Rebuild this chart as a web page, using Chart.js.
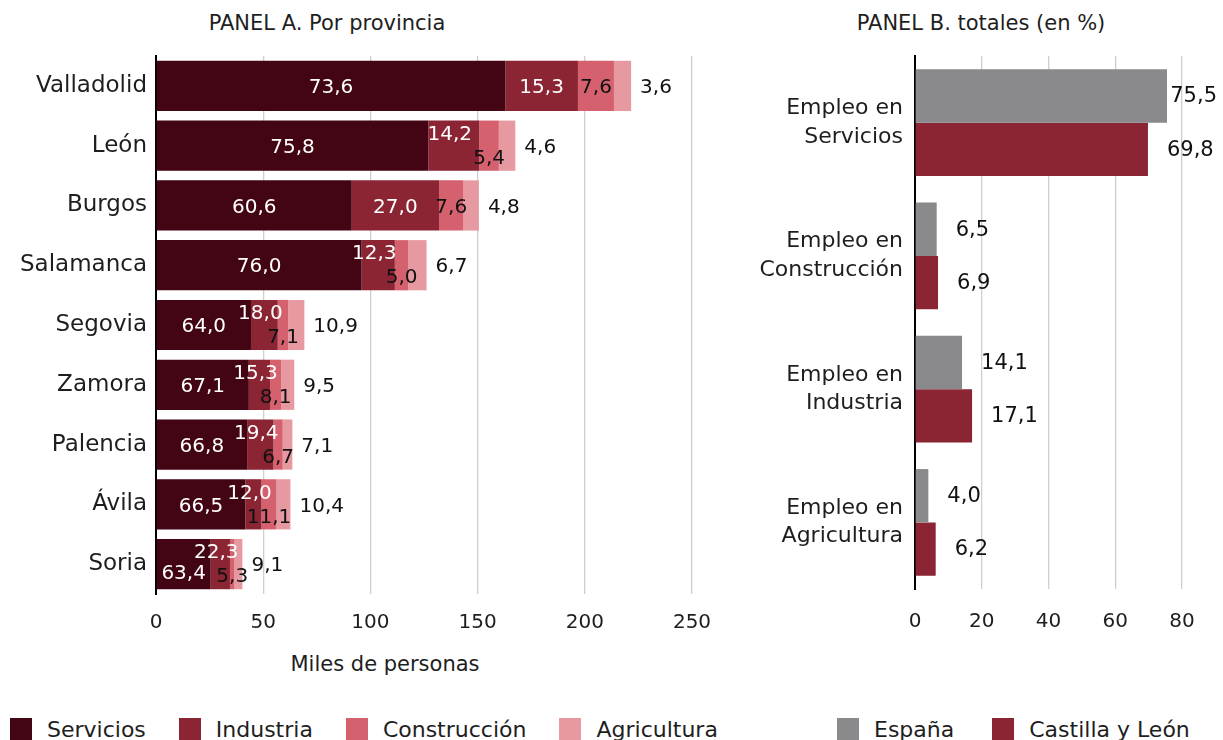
<!DOCTYPE html>
<html>
<head>
<meta charset="utf-8">
<script src="https://cdn.jsdelivr.net/npm/chart.js@4.4.1/dist/chart.umd.min.js"></script>
<style>
  html, body { margin: 0; padding: 0; background: #fff; }
  body { width: 1223px; height: 740px; position: relative; overflow: hidden; font-family: "DejaVu Sans", sans-serif; color: #1e1e1e; }
  canvas { position: absolute; top: 0; }
  #chartA { left: 0; }
  #chartB { left: 740px; }
  .title { position: absolute; font-size: 21px; line-height: 24px; white-space: nowrap; transform: translateX(-50%); }
  .legend { position: absolute; top: 718px; display: flex; font-size: 22px; line-height: 23px; white-space: nowrap; }
  .legend .item { display: flex; align-items: center; }
  .legend .sw { width: 22px; height: 23px; margin-right: 15px; }
</style>
</head>
<body>
<div class="title" style="left:327px;top:11px">PANEL A. Por provincia</div>
<div class="title" style="left:981px;top:11px">PANEL B. totales (en %)</div>
<div class="title" style="left:385px;top:652px">Miles de personas</div>
<canvas id="chartA" width="740" height="700"></canvas>
<canvas id="chartB" width="483" height="700"></canvas>
<div class="legend" id="legendA" style="left:10px;gap:33px"></div>
<div class="legend" id="legendB" style="left:837px;gap:38px"></div>
<script>
// Panel A: empleo por provincia (miles de personas) y etiquetas en % del total
var provincias = ['Valladolid', 'León', 'Burgos', 'Salamanca', 'Segovia', 'Zamora', 'Palencia', 'Ávila', 'Soria'];
var milesServicios    = [162.9, 127.0, 91.3, 95.9, 44.3, 43.3, 42.5, 41.7, 25.5];
var milesIndustria    = [33.9, 23.8, 40.7, 15.5, 12.5, 9.9, 12.3, 7.5, 9.0];
var milesConstruccion = [16.8, 9.1, 11.4, 6.3, 4.9, 5.2, 4.3, 7.0, 2.1];
var milesAgricultura  = [8.0, 7.7, 7.2, 8.5, 7.5, 6.1, 4.5, 6.5, 3.7];
var pctServicios    = [73.6, 75.8, 60.6, 76.0, 64.0, 67.1, 66.8, 66.5, 63.4];
var pctIndustria    = [15.3, 14.2, 27.0, 12.3, 18.0, 15.3, 19.4, 12.0, 22.3];
var pctConstruccion = [7.6, 5.4, 7.6, 5.0, 7.1, 8.1, 6.7, 11.1, 5.3];
var pctAgricultura  = [3.6, 4.6, 4.8, 6.7, 10.9, 9.5, 7.1, 10.4, 9.1];
var ticksA = [0, 50, 100, 150, 200, 250];

// Panel B: totales (en %)
var sectores = [['Empleo en', 'Servicios'], ['Empleo en', 'Construcción'], ['Empleo en', 'Industria'], ['Empleo en', 'Agricultura']];
var pctEspana = [75.5, 6.5, 14.1, 4.0];
var pctCyL    = [69.8, 6.9, 17.1, 6.2];
var ticksB = [0, 20, 40, 60, 80];

var FONT = '"DejaVu Sans", sans-serif';
var TXT = '#1e1e1e';
var GRID = '#cfcfcf';
var colA = ['#430514', '#8b2433', '#d6616e', '#e699a1'];
var colB = ['#8a8a8c', '#8b2533'];

function fmt(v) { return v.toFixed(1).replace('.', ','); }

// etiquetas de los segmentos (al estilo Excel, desplazadas si no caben)
var segLabels = {
  id: 'segLabels',
  afterDatasetsDraw: function(chart) {
    var ctx = chart.ctx;
    var metas = chart.data.datasets.map(function(ds, di) { return chart.getDatasetMeta(di); });
    ctx.save();
    ctx.font = '20px ' + FONT;
    ctx.textBaseline = 'middle';
    chart.data.datasets.forEach(function(ds, di) {
      metas[di].data.forEach(function(bar, i) {
        var txt = fmt(ds.pct[i]);
        var w = Math.abs(bar.x - bar.base);
        var cx = (bar.x + bar.base) / 2;
        var y = bar.y + 2;
        var indW = Math.abs(metas[1].data[i].x - metas[1].data[i].base);
        ctx.textAlign = 'center';
        if (di === 0) {
          ctx.fillStyle = '#fff';
          if (w < 60) y += 8;
          ctx.fillText(txt, cx, y);
        } else if (di === 1) {
          ctx.fillStyle = '#fff';
          if (w < 60) { y -= 13; cx -= 4; }
          ctx.fillText(txt, cx, y);
        } else if (di === 2) {
          ctx.fillStyle = '#111';
          if (indW < 60) y += 11;
          ctx.fillText(txt, cx, y);
        } else {
          ctx.fillStyle = '#111';
          ctx.textAlign = 'left';
          ctx.fillText(txt, bar.x + 9, y);
        }
      });
    });
    ctx.restore();
  }
};

var endLabels = {
  id: 'endLabels',
  afterDatasetsDraw: function(chart) {
    var ctx = chart.ctx;
    ctx.save();
    ctx.font = '21px ' + FONT;
    ctx.textBaseline = 'middle';
    ctx.textAlign = 'left';
    ctx.fillStyle = '#111';
    chart.data.datasets.forEach(function(ds, di) {
      chart.getDatasetMeta(di).data.forEach(function(bar, i) {
        var txt = fmt(ds.data[i]);
        var tw = ctx.measureText(txt).width;
        var x = Math.min(bar.x + 19, chart.width - 6 - tw);
        ctx.fillText(txt, x, bar.y + 1);
      });
    });
    ctx.restore();
  }
};

function xScale(max, step, ticks, h, pad) {
  return {
    stacked: true, min: 0, max: max,
    afterFit: function(s) { s.height = h; },
    afterBuildTicks: function(s) { s.ticks = ticks.map(function(v) { return { value: v }; }); },
    grid: { color: GRID, lineWidth: 1.3, drawTicks: false },
    border: { display: false },
    ticks: { stepSize: step, padding: pad, color: TXT, font: { family: FONT, size: 20 } }
  };
}

var chartA = new Chart(document.getElementById('chartA'), {
  type: 'bar',
  data: {
    labels: provincias,
    datasets: [
      { label: 'Servicios', data: milesServicios, pct: pctServicios, backgroundColor: colA[0] },
      { label: 'Industria', data: milesIndustria, pct: pctIndustria, backgroundColor: colA[1] },
      { label: 'Construcción', data: milesConstruccion, pct: pctConstruccion, backgroundColor: colA[2] },
      { label: 'Agricultura', data: milesAgricultura, pct: pctAgricultura, backgroundColor: colA[3] }
    ]
  },
  options: {
    indexAxis: 'y',
    responsive: false,
    animation: false,
    devicePixelRatio: 1,
    layout: { padding: { top: 56, right: 48, left: 0, bottom: 0 } },
    datasets: { bar: { barPercentage: 0.84, categoryPercentage: 1 } },
    plugins: { legend: { display: false }, tooltip: { enabled: false } },
    scales: {
      x: xScale(250, 50, ticksA, 106, 17),
      y: {
        stacked: true,
        afterFit: function(s) { s.width = 156; },
        grid: { display: false },
        border: { display: true, color: '#000', width: 2 },
        ticks: { padding: 1, color: TXT, font: { family: FONT, size: 23 } }
      }
    }
  },
  plugins: [segLabels]
});

var chartB = new Chart(document.getElementById('chartB'), {
  type: 'bar',
  data: {
    labels: sectores,
    datasets: [
      { label: 'España', data: pctEspana, backgroundColor: colB[0] },
      { label: 'Castilla y León', data: pctCyL, backgroundColor: colB[1] }
    ]
  },
  options: {
    indexAxis: 'y',
    responsive: false,
    animation: false,
    devicePixelRatio: 1,
    layout: { padding: { top: 56, right: 41, left: 0, bottom: 0 } },
    datasets: { bar: { barPercentage: 1, categoryPercentage: 0.8 } },
    plugins: { legend: { display: false }, tooltip: { enabled: false } },
    scales: {
      x: Object.assign(xScale(80, 20, ticksB, 111, 21), { stacked: false }),
      y: {
        afterFit: function(s) { s.width = 175; },
        grid: { display: false },
        border: { display: true, color: '#000', width: 2 },
        ticks: { padding: 4, color: TXT, font: { family: FONT, size: 22, lineHeight: 1.3 } }
      }
    }
  },
  plugins: [endLabels]
});

// leyendas
function buildLegend(id, chart) {
  var el = document.getElementById(id);
  chart.data.datasets.forEach(function(ds) {
    var item = document.createElement('div');
    item.className = 'item';
    item.innerHTML = '<span class="sw" style="background:' + ds.backgroundColor + '"></span><span>' + ds.label + '</span>';
    el.appendChild(item);
  });
}
buildLegend('legendA', chartA);
buildLegend('legendB', chartB);
</script>
</body>
</html>
